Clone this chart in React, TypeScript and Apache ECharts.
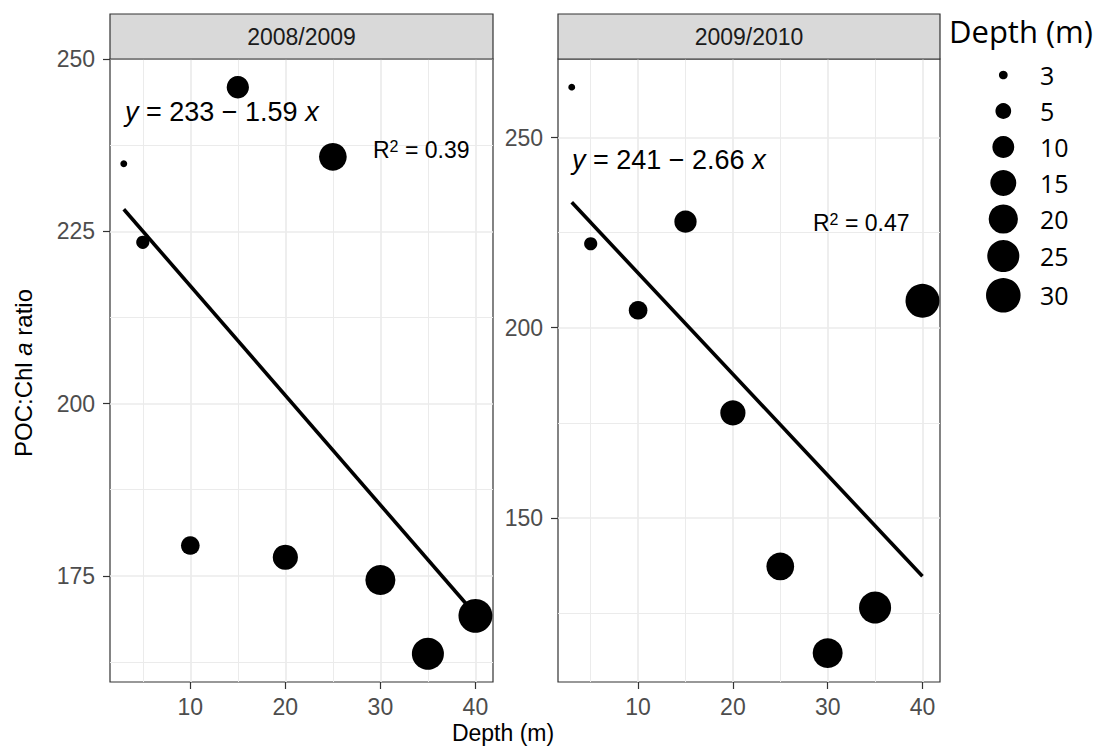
import React, { useEffect, useRef } from 'react';
import * as echarts from 'echarts';

// ---- data ----
const depths = [3, 5, 10, 15, 20, 25, 30, 35, 40];
const ratio0809 = [234.8, 223.4, 179.4, 245.9, 177.7, 235.8, 174.4, 163.7, 169.2];
const ratio0910 = [263.3, 222.1, 204.6, 227.9, 177.6, 137.2, 114.4, 126.4, 207.1];
const fitX = [3, 40];
const fit0809 = [228.2, 169.4];
const fit0910 = [233.0, 134.6];
const panelTitles = ['2008/2009', '2009/2010'];
const eqTerms = ['233 − 1.59', '241 − 2.66'];
const r2Values = ['0.39', '0.47'];
const xTicks = [10, 20, 30, 40];
const xMinor = [5, 15, 25, 35];
const yTicks0809 = [175, 200, 225, 250];
const yMinor0809 = [162.5, 187.5, 212.5, 237.5];
const yTicks0910 = [150, 200, 250];
const yMinor0910 = [125, 175, 225];
const legendBreaks = [3, 5, 10, 15, 20, 25, 30];

const AR = 'Liberation Sans';
const LEG = 'Open Sans';

const dMin = Math.min(...depths);
const dMax = Math.max(...depths);
const plotD = (v: number) => 1.5 + 5.4 * (1 + 5 * Math.sqrt((v - dMin) / (dMax - dMin)));
const legD = (v: number) => plotD(v) * 1.12 + 1;

const txt = (text: string, x: number, y: number, size: number, family: string, fill: string, align: string, valign: string, extra: any = {}) => ({
  text,
  x,
  y,
  fontSize: size,
  fontFamily: family,
  fill,
  textAlign: align,
  textVerticalAlign: valign,
  align,
  verticalAlign: valign,
  ...extra,
});

export default function App() {
  const ref = useRef<HTMLDivElement>(null);
  useEffect(() => {
    document.body.style.margin = '0';
    const chart = echarts.init(ref.current!, null, { renderer: 'svg' });

    const grids = [
      { left: 110, top: 59, width: 383, height: 623 },
      { left: 558, top: 59, width: 382, height: 623 },
    ];
    const yRanges = [
      [159.6, 250.0],
      [106.8, 270.7],
    ];
    const yTicks = [yTicks0809, yTicks0910];
    const yMinors = [yMinor0809, yMinor0910];
    const ratios = [ratio0809, ratio0910];
    const fits = [fit0809, fit0910];

    const xAxes = grids.map((_, i) => ({
      type: 'value',
      gridIndex: i,
      min: 1.55,
      max: 41.85,
      axisLine: { show: false },
      splitLine: { show: false },
      axisTick: { show: true, length: 7, lineStyle: { color: '#333', width: 1.2 }, customValues: xTicks },
      axisLabel: { customValues: xTicks, color: '#4d4d4d', fontSize: 23, fontFamily: AR, margin: 13 },
    }));
    const yAxes = grids.map((_, i) => ({
      type: 'value',
      gridIndex: i,
      min: yRanges[i][0],
      max: yRanges[i][1],
      axisLine: { show: false },
      splitLine: { show: false },
      axisTick: { show: true, length: 7, lineStyle: { color: '#333', width: 1.2 }, customValues: yTicks[i] },
      axisLabel: { customValues: yTicks[i], color: '#4d4d4d', fontSize: 23, fontFamily: AR, margin: 15 },
    }));

    const series: any[] = [];
    grids.forEach((_, i) => {
      const gl = (v: number, key: 'xAxis' | 'yAxis', w: number) => ({
        [key]: v,
        lineStyle: { color: '#ebebeb', width: w, type: 'solid' },
      });
      series.push({
        type: 'line',
        xAxisIndex: i,
        yAxisIndex: i,
        data: [],
        z: 0,
        silent: true,
        markLine: {
          z: 0,
          silent: true,
          animation: false,
          symbol: ['none', 'none'],
          label: { show: false },
          emphasis: { disabled: true },
          data: [
            ...xMinor.map((v) => gl(v, 'xAxis', 1)),
            ...yMinors[i].map((v) => gl(v, 'yAxis', 1)),
            ...xTicks.map((v) => gl(v, 'xAxis', 1.7)),
            ...yTicks[i].map((v) => gl(v, 'yAxis', 1.7)),
          ],
        },
      });
      series.push({
        type: 'line',
        xAxisIndex: i,
        yAxisIndex: i,
        data: fitX.map((x, k) => [x, fits[i][k]]),
        showSymbol: false,
        symbol: 'none',
        lineStyle: { color: '#000', width: 3.6 },
        z: 2,
        silent: true,
      });
      series.push({
        type: 'scatter',
        xAxisIndex: i,
        yAxisIndex: i,
        data: depths.map((d, k) => [d, ratios[i][k]]),
        symbol: 'circle',
        symbolSize: (val: number[]) => plotD(val[0]),
        itemStyle: { color: '#000', opacity: 1 },
        z: 3,
        silent: true,
      });
    });

    const graphics: any[] = [];
    // strips
    grids.forEach((g, i) => {
      graphics.push({
        type: 'rect',
        z: 10,
        shape: { x: g.left, y: 14, width: g.width, height: 45 },
        style: { fill: '#d9d9d9', stroke: '#333', lineWidth: 1.2 },
      });
      graphics.push({
        type: 'text',
        z: 11,
        style: txt(panelTitles[i], g.left + g.width / 2, 37, 23, AR, '#1a1a1a', 'center', 'middle'),
      });
    });
    // equations
    const eqPos = [
      { x: 125, y: 112, rx: 373, ry: 150 },
      { x: 572, y: 160, rx: 813, ry: 223 },
    ];
    const italic = (size: number) => ({ fontStyle: 'italic', fontSize: size, fontFamily: AR, fill: '#000' });
    eqPos.forEach((p, i) => {
      graphics.push({
        type: 'text',
        z: 11,
        style: txt(`{i|y} = ${eqTerms[i]} {i|x}`, p.x, p.y, 27, AR, '#000', 'left', 'middle', {
          rich: { i: italic(27) },
        }),
      });
      graphics.push({
        type: 'text',
        z: 11,
        style: txt(`R{s|2} = ${r2Values[i]}`, p.rx, p.ry, 23, AR, '#000', 'left', 'middle', {
          rich: { s: { fontSize: 16, fontFamily: AR, fill: '#000', verticalAlign: 'top', lineHeight: 24 } },
        }),
      });
    });
    // axis titles
    graphics.push({
      type: 'text',
      z: 11,
      style: txt('Depth (m)', 503, 733, 23, AR, '#000', 'center', 'middle'),
    });
    graphics.push({
      type: 'text',
      z: 11,
      x: 23,
      y: 373,
      rotation: Math.PI / 2,
      style: txt('POC:Chl {i|a} ratio', 0, 0, 24, AR, '#000', 'center', 'middle', {
        rich: { i: italic(24) },
      }),
    });
    // legend
    graphics.push({
      type: 'text',
      z: 11,
      style: txt('Depth (m)', 949, 31, 31, LEG, '#000', 'left', 'middle'),
    });
    let ly = 75;
    legendBreaks.forEach((v, k) => {
      const h = (b: number) => Math.max(36, legD(b) + 6);
      if (k > 0) ly += (h(legendBreaks[k - 1]) + h(v)) / 2;
      graphics.push({
        type: 'circle',
        z: 11,
        shape: { cx: 1003.3, cy: ly, r: legD(v) / 2 },
        style: { fill: '#000' },
      });
      graphics.push({
        type: 'text',
        z: 11,
        style: txt(String(v), 1040, ly, 25, LEG, '#000', 'left', 'middle'),
      });
    });

    chart.setOption({
      animation: false,
      grid: grids.map((g) => ({ ...g, show: true, borderColor: '#333', borderWidth: 1.2, backgroundColor: 'transparent', containLabel: false })),
      xAxis: xAxes,
      yAxis: yAxes,
      series,
      graphic: graphics,
    } as any);
    return () => chart.dispose();
  }, []);
  return <div ref={ref} style={{ width: 1102, height: 753 }} />;
}
